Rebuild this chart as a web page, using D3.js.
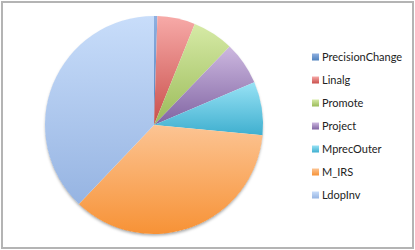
<!DOCTYPE html>
<html>
<head>
  <meta charset="utf-8">
  <script src="https://d3js.org/d3.v7.min.js"></script>
  <style>
    body, html { margin: 0; padding: 0; background: #fff; }
    svg { display: block; }
    .legend text { font: 11px Lato, sans-serif; fill: #222; }
  </style>
</head>
<body>
<svg width="415" height="250"></svg>
<script>
  // Slice names and values (share of total, clockwise from 12 o'clock)
  const categories = ["PrecisionChange", "Linalg", "Promote", "Project", "MprecOuter", "M_IRS", "LdopInv"];
  const values = [0.5, 5.6, 6.1, 6.4, 7.9, 35.6, 37.9];
  const baseColors = ["#4f81bd", "#c94f4b", "#9bbb59", "#8064a2", "#3fafcf", "#f79236", "#96b4e2"];
  const topColors = ["#8fb0e0", "#f7aaa8", "#d6eaa6", "#cdb8e0", "#98e2f5", "#fcc493", "#c8ddfa"];

  const svg = d3.select("svg");
  const W = 415, H = 250;

  // outer frame
  svg.append("rect")
    .attr("x", 2).attr("y", 2).attr("width", W - 4).attr("height", H - 4)
    .attr("fill", "#fff").attr("stroke", "#b4b4b4").attr("stroke-width", 2);

  const defs = svg.append("defs");
  categories.forEach((c, i) => {
    const grad = defs.append("linearGradient")
      .attr("id", "g" + i)
      .attr("x1", 0).attr("y1", 0).attr("x2", 0).attr("y2", 1);
    grad.append("stop").attr("offset", "0%").attr("stop-color", topColors[i]);
    grad.append("stop").attr("offset", "100%").attr("stop-color", baseColors[i]);
  });
  const shadow = defs.append("filter").attr("id", "shadow")
    .attr("x", "-10%").attr("y", "-10%").attr("width", "120%").attr("height", "120%");
  shadow.append("feDropShadow")
    .attr("dx", 0).attr("dy", 2).attr("stdDeviation", 1.5)
    .attr("flood-color", "#000").attr("flood-opacity", 0.35);

  const cx = 154, cy = 125, r = 109;
  const pie = d3.pie().sort(null).value(d => d);
  const arc = d3.arc().innerRadius(0).outerRadius(r);

  const g = svg.append("g").attr("transform", `translate(${cx},${cy})`);
  // shadow disc behind the slices
  g.append("circle").attr("r", r - 0.5).attr("fill", "#fff").attr("filter", "url(#shadow)");
  g.selectAll("path")
    .data(pie(values))
    .enter()
    .append("path")
    .attr("d", arc)
    .attr("fill", (d, i) => `url(#g${i})`);

  // legend
  const legendY = d3.scalePoint().domain(categories).range([57, 195]);
  const legend = svg.append("g").attr("class", "legend");
  const items = legend.selectAll("g")
    .data(categories)
    .enter()
    .append("g")
    .attr("transform", d => `translate(312,${legendY(d)})`);
  items.append("rect")
    .attr("x", 0).attr("y", -3.5).attr("width", 7).attr("height", 7)
    .attr("fill", (d, i) => `url(#g${i})`);
  items.append("text")
    .attr("x", 10).attr("y", 0).attr("dy", "0.36em")
    .text(d => d);
</script>
</body>
</html>
